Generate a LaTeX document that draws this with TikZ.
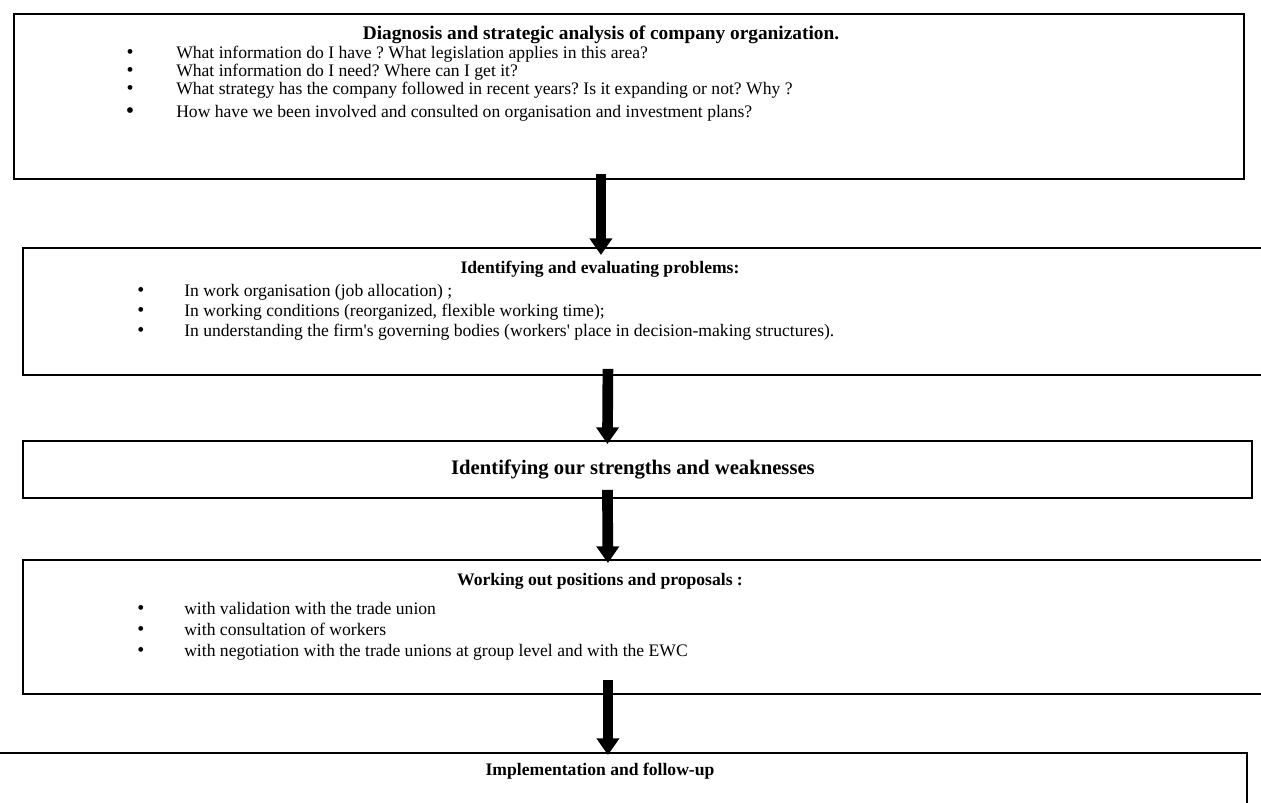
\documentclass[tikz,border=0pt]{standalone}
\usepackage{fontspec}
\setmainfont{Liberation Serif}
\usepackage{tikz}
\usetikzlibrary{arrows.meta, positioning}
\frenchspacing
\newcommand{\pxu}{0.75pt}
\tikzstyle{stage} = [rectangle, draw, line width=1.4pt, anchor=north west, inner sep=0pt]
\tikzstyle{boxtitle} = [font=\fontsize{13.2}{16}\selectfont\bfseries, anchor=base, inner sep=0pt]
\tikzstyle{itemtext} = [font=\fontsize{13.2}{16}\selectfont, anchor=base west, inner sep=0pt]
\tikzstyle{bulletdot} = [font=\fontsize{15}{15}\selectfont, anchor=base, inner sep=0pt]
\tikzstyle{arrow} = [-{Triangle[width=16.5pt,length=12.5pt]}, line width=8pt]

\begin{document}
\begin{tikzpicture}[x=\pxu, y=-\pxu]
\useasboundingbox (0,0) rectangle (1261,803);
\clip (0,0) rectangle (1261,803);

% Boxes
\node[stage, minimum width=1230*\pxu, minimum height=165*\pxu] (diag) at (13,13) {};
\node[stage, minimum width=1290*\pxu, minimum height=127*\pxu] (probl) at (22,247) {};
\node[stage, minimum width=1229*\pxu, minimum height=57*\pxu] (swot) at (22,440) {};
\node[stage, minimum width=1290*\pxu, minimum height=134*\pxu] (posit) at (22,559) {};
\node[stage, minimum width=1266*\pxu, minimum height=100*\pxu] (impl) at (-20,752) {};

% Box 1: diagnosis
\node[boxtitle, font=\fontsize{14.5}{16}\selectfont\bfseries] (diagT) at (601,39) {Diagnosis and strategic analysis of company organization.};
\node[bulletdot] (diagB1) at (130,58) {•};
\node[bulletdot] (diagB2) at (130,76) {•};
\node[bulletdot] (diagB3) at (130,94) {•};
\node[bulletdot, font=\fontsize{18}{18}\selectfont] (diagB4) at (130,118) {•};
\node[itemtext] (diagL1) at (176,58) {What information do I have ? What legislation applies in this area?};
\node[itemtext] (diagL2) at (176,76) {What information do I need? Where can I get it?};
\node[itemtext] (diagL3) at (176,94) {What strategy has the company followed in recent years? Is it expanding or not? Why ?};
\node[itemtext] (diagL4) at (176,117) {How have we been involved and consulted on organisation and investment plans?};

% Box 2: problems
\node[boxtitle] (problT) at (600,273) {Identifying and evaluating problems:};
\node[bulletdot] (problB1) at (141,296) {•};
\node[bulletdot] (problB2) at (141,316) {•};
\node[bulletdot] (problB3) at (141,336) {•};
\node[itemtext] (problL1) at (184,296) {In work organisation (job allocation) ;};
\node[itemtext] (problL2) at (184,316) {In working conditions (reorganized, flexible working time);};
\node[itemtext] (problL3) at (184,336) {In understanding the firm\textquotesingle s governing bodies (workers\textquotesingle\ place in decision-making structures).};

% Box 3: strengths
\node[boxtitle, font=\fontsize{15.5}{18}\selectfont\bfseries] (swotT) at (633,474) {Identifying our strengths and weaknesses};

% Box 4: positions
\node[boxtitle] (positT) at (600,585) {Working out positions and proposals :};
\node[bulletdot] (positB1) at (141,614) {•};
\node[bulletdot] (positB2) at (141,635) {•};
\node[bulletdot] (positB3) at (141,656) {•};
\node[itemtext] (positL1) at (184,614) {with validation with the trade union};
\node[itemtext] (positL2) at (184,635) {with consultation of workers};
\node[itemtext] (positL3) at (184,656) {with negotiation with the trade unions at group level and with the EWC};

% Box 5: implementation
\node[boxtitle] (implT) at (600,775) {Implementation and follow-up};

% Arrows between stages
\draw[arrow] ([shift={(-28,-6)}]diag.south) -- ([shift={(-67,8)}]probl.north);
\draw[arrow] ([shift={(-60,-7)}]probl.south) -- ([shift={(-30,4)}]swot.north);
\draw[arrow] ([shift={(-30,-9)}]swot.south) -- ([shift={(-60,4)}]posit.north);
\draw[arrow] ([shift={(-60,-15)}]posit.south) -- ([shift={(-6,3)}]impl.north);

\end{tikzpicture}
\end{document}
